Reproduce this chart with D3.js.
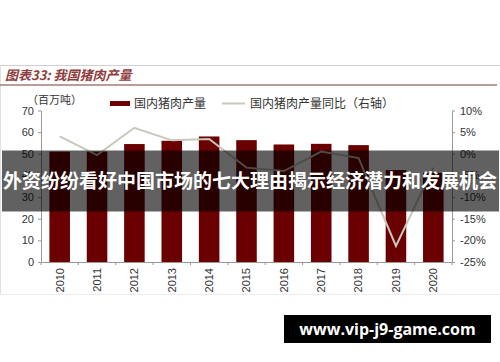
<!DOCTYPE html>
<html>
<head>
<meta charset="utf-8">
<script src="https://cdn.jsdelivr.net/npm/d3@7"></script>
<style>
  body { margin: 0; background: #fff; }
  svg { display: block; }
</style>
</head>
<body>
<svg width="500" height="362"></svg>
<script>
// data
var years = ['2010', '2011', '2012', '2013', '2014', '2015', '2016', '2017', '2018', '2019', '2020']
var production = [51, 51, 54.5, 56, 58, 56.3, 54.3, 54.6, 54, 42.5, 41.2]   // 百万吨
var growth = [4.0, -0.3, 6.0, 3.1, 3.4, -3.2, -4.0, 0.5, -1.0, -21.3, -3.2]  // %
var leftTicks = [0, 10, 20, 30, 40, 50, 60, 70]
var rightTicks = [-25, -20, -15, -10, -5, 0, 5, 10]

var svg = d3.select("svg"),
    width = +svg.attr("width"),
    height = +svg.attr("height");

var numFont = "'Liberation Sans', Arial, sans-serif",
    cjkFont = "'Noto Sans CJK SC', sans-serif";

// plot box (window.top is reserved, so no plain "top")
var plotL = 41, plotR = 452, plotT = 110.5, plotB = 262;

var x = d3.scaleBand().domain(years).range([plotL, plotR]).paddingInner(0.45).paddingOuter(0.225)
var yL = d3.scaleLinear().domain([0, 70]).range([plotB, plotT])
var yR = d3.scaleLinear().domain([-25, 10]).range([plotB, plotT])

// frame
svg.append("line").attr("x1", 0).attr("x2", width).attr("y1", 65.5).attr("y2", 65.5)
    .style("stroke", "#d0d0d0")
svg.append("line").attr("x1", 0.5).attr("x2", 0.5).attr("y1", 65).attr("y2", 294)
    .style("stroke", "#e0e0e0")
svg.append("line").attr("x1", 0).attr("x2", width).attr("y1", 294.5).attr("y2", 294.5)
    .style("stroke", "#ececec")

// title
svg.append("text").attr("x", 5).attr("y", 80)
    .style("font-family", cjkFont).style("font-size", "13px").style("font-style", "italic")
    .style("font-weight", "bold")
    .style("fill", "#8e3d3d")
    .text("图表33: 我国猪肉产量")
svg.append("line").attr("x1", 0).attr("x2", 497).attr("y1", 85).attr("y2", 85)
    .style("stroke", "#a87a7a").style("stroke-width", 1.5)

// unit
svg.append("text").attr("x", 27).attr("y", 104)
    .style("font-family", cjkFont).style("font-size", "11px").style("fill", "#333")
    .text("（百万吨）")

// legend
svg.append("rect").attr("x", 110).attr("y", 101).attr("width", 20).attr("height", 5)
    .style("fill", "#6a0000")
svg.append("text").attr("x", 134).attr("y", 107.5)
    .style("font-family", cjkFont).style("font-size", "12px").style("fill", "#333")
    .text("国内猪肉产量")
svg.append("line").attr("x1", 222).attr("x2", 245).attr("y1", 103.5).attr("y2", 103.5)
    .style("stroke", "#c9c6bc").style("stroke-width", 2)
svg.append("text").attr("x", 250).attr("y", 107.5)
    .style("font-family", cjkFont).style("font-size", "12px").style("fill", "#333")
    .text("国内猪肉产量同比（右轴）")

// bars
svg.append("g")
    .selectAll("rect")
    .data(years)
    .enter().append("rect")
    .attr("x", d => x(d))
    .attr("width", x.bandwidth())
    .attr("y", (d, i) => yL(production[i]))
    .attr("height", (d, i) => plotB - yL(production[i]))
    .style("fill", "#6a0000")

// yoy line
var line = d3.line()
    .x((d, i) => x(years[i]) + x.bandwidth() / 2)
    .y(d => yR(d))
svg.append("path")
    .datum(growth)
    .attr("d", line)
    .style("fill", "none")
    .style("stroke", "#c9c6bc")
    .style("stroke-width", 2)

// left axis
var gL = svg.append("g").attr("transform", "translate(" + plotL + ",0)")
    .call(d3.axisLeft(yL).tickValues(leftTicks).tickSize(3).tickSizeOuter(0).tickPadding(4))
gL.selectAll("path, line").style("stroke", "#999")
gL.selectAll("text").style("font-family", numFont).style("font-size", "11px").style("fill", "#333")

// right axis
var gR = svg.append("g").attr("transform", "translate(" + plotR + ",0)")
    .call(d3.axisRight(yR).tickValues(rightTicks).tickSize(3).tickSizeOuter(0).tickPadding(5).tickFormat(d => d + "%"))
gR.selectAll("path, line").style("stroke", "#999")
gR.selectAll("text").style("font-family", numFont).style("font-size", "11px").style("fill", "#333")

// bottom axis, years rotated
var gB = svg.append("g").attr("transform", "translate(0," + plotB + ")")
    .call(d3.axisBottom(x).tickSize(0).tickSizeOuter(0).tickPadding(0))
gB.select(".domain").style("stroke", "#999")
gB.selectAll("text")
    .attr("transform", "rotate(-90)")
    .attr("x", -6).attr("y", 0).attr("dy", "0.35em")
    .style("text-anchor", "end")
    .style("font-family", numFont).style("font-size", "11px").style("fill", "#333")
gB.append("g").selectAll("line")
    .data(years.concat(["end"]))
    .enter().append("line")
    .attr("x1", (d, i) => plotL + i * x.step()).attr("x2", (d, i) => plotL + i * x.step())
    .attr("y1", 0).attr("y2", 3)
    .style("stroke", "#999")

// overlay banner
svg.append("rect").attr("x", 2).attr("y", 150.5).attr("width", 497).attr("height", 61)
    .style("fill", "rgba(0,0,0,0.62)")
svg.append("text").attr("x", 250).attr("y", 181).attr("dy", "0.36em")
    .style("text-anchor", "middle")
    .style("font-family", cjkFont).style("font-size", "19px").style("font-weight", "bold")
    .style("fill", "#fff")
    .text("外资纷纷看好中国市场的七大理由揭示经济潜力和发展机会")

// site badge
svg.append("rect").attr("x", 284).attr("y", 315).attr("width", 207).attr("height", 28)
    .style("fill", "#000")
svg.append("text").attr("x", 387.5).attr("y", 329).attr("dy", "0.35em")
    .style("text-anchor", "middle")
    .style("font-family", "'Open Sans', sans-serif").style("font-size", "16px").style("font-weight", "bold")
    .style("fill", "#fff")
    .text("www.vip-j9-game.com")
</script>
</body>
</html>
